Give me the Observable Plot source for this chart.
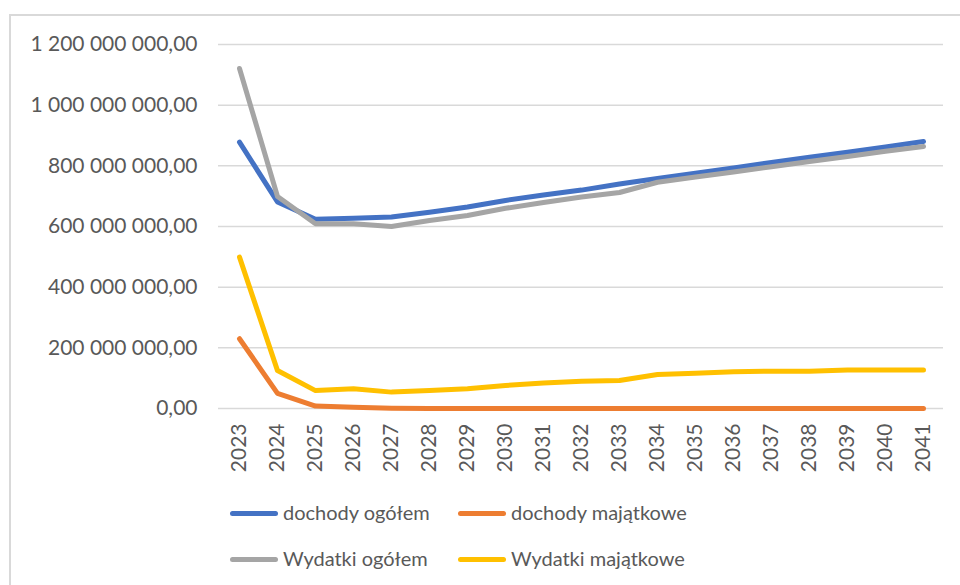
<!DOCTYPE html>
<html><head><meta charset="utf-8">
<script src="https://cdn.jsdelivr.net/npm/d3@7"></script>
<script src="https://cdn.jsdelivr.net/npm/@observablehq/plot@0.6"></script>
<style>
body{margin:0;background:#fff;font-family:Lato,"Open Sans",sans-serif;width:960px;height:585px;overflow:hidden;position:relative;}
#frame{position:absolute;left:9px;top:14px;width:980px;height:620px;border:2px solid #d9d9d9;box-sizing:border-box;}
#chart{position:absolute;left:0;top:0;}
.sw{position:absolute;height:5px;border-radius:3px;}
.lt{position:absolute;font-size:20px;color:#595959;line-height:24px;white-space:nowrap;}
</style>
</head><body>
<div id="frame"></div>
<div id="chart"></div>
<div id="legend"></div>
<script>
const years = ["2023","2024","2025","2026","2027","2028","2029","2030","2031","2032","2033","2034","2035","2036","2037","2038","2039","2040","2041"];
const seriesNames = ["dochody ogółem","dochody majątkowe","Wydatki ogółem","Wydatki majątkowe"];
const seriesColors = ["#4472C4","#ED7D31","#A5A5A5","#FFC000"];
const dochodyOgolem    = [878e6, 681e6, 624e6, 627e6, 631e6, 647e6, 664e6, 686e6, 704e6, 720e6, 740e6, 758e6, 776e6, 793e6, 811e6, 828e6, 845e6, 862e6, 880e6];
const dochodyMajatkowe = [230e6, 50e6, 8e6, 4e6, 1e6, 0, 0, 0, 0, 0, 0, 0, 0, 0, 0, 0, 0, 0, 0];
const wydatkiOgolem    = [1121e6, 699e6, 609e6, 609e6, 600e6, 620e6, 636e6, 660e6, 679e6, 697e6, 712e6, 746e6, 763e6, 780e6, 797e6, 814e6, 831e6, 848e6, 864e6];
const wydatkiMajatkowe = [499e6, 125e6, 59e6, 65e6, 54e6, 59e6, 65e6, 76e6, 84e6, 90e6, 92e6, 112e6, 116e6, 121e6, 123e6, 123e6, 127e6, 127e6, 127e6];
const yTicks = [0, 200e6, 400e6, 600e6, 800e6, 1000e6, 1200e6];

const allSeries = [dochodyOgolem, dochodyMajatkowe, wydatkiOgolem, wydatkiMajatkowe];
const data = [];
allSeries.forEach((vals, i) => vals.forEach((v, j) => data.push({year: years[j], value: v, series: seriesNames[i]})));

const fmt = v => d3.format(",.2f")(v).replace(/,/g, " ").replace(".", ",");

const chart = Plot.plot({
  width: 960,
  height: 480,
  marginLeft: 218,
  marginRight: 17,
  marginTop: 44,
  marginBottom: 72,
  style: {fontFamily: "Lato, 'Open Sans', sans-serif", fontSize: "21px", color: "#595959", background: "transparent"},
  x: {type: "point", domain: years, padding: 0.5, label: null},
  y: {domain: [0, 1200e6], label: null},
  color: {domain: seriesNames, range: seriesColors},
  marks: [
    Plot.gridY(yTicks, {stroke: "#d9d9d9", strokeOpacity: 1, strokeWidth: 1.5}),
    Plot.axisY(yTicks, {tickSize: 0, tickPadding: 21, tickFormat: fmt, fill: "#595959", label: null}),
    Plot.axisX({tickSize: 0, tickPadding: 15, tickRotate: -90, fill: "#595959", label: null}),
    Plot.line(data, {x: "year", y: "value", z: "series", stroke: "series", strokeWidth: 5, strokeLinecap: "round", strokeLinejoin: "round"})
  ]
});
document.getElementById("chart").appendChild(chart);

const legend = document.getElementById("legend");
const pos = [[230, 513], [458, 513], [230, 559], [458, 559]];
seriesNames.forEach((name, i) => {
  const [x, y] = pos[i];
  const sw = document.createElement("div");
  sw.className = "sw";
  sw.style.left = x + "px"; sw.style.top = (y - 2.5) + "px"; sw.style.width = "48px";
  sw.style.background = seriesColors[i];
  legend.appendChild(sw);
  const t = document.createElement("div");
  t.className = "lt";
  t.style.left = (x + 53) + "px"; t.style.top = (y - 13) + "px";
  t.textContent = name;
  legend.appendChild(t);
});
</script>
</body></html>
